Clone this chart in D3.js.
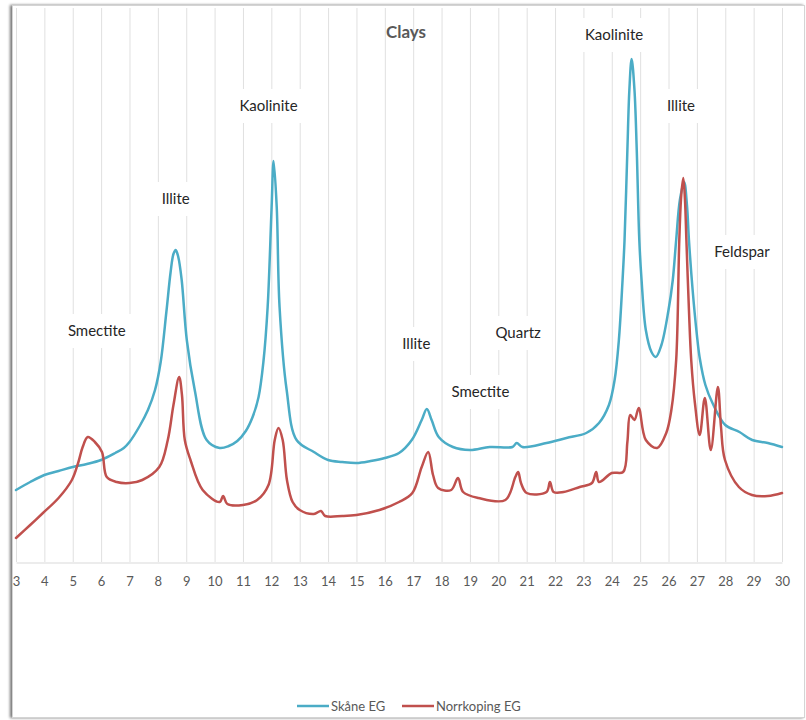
<!DOCTYPE html>
<html>
<head>
<meta charset="utf-8">
<script src="https://cdn.jsdelivr.net/npm/d3@7"></script>
<style>
  html, body { margin: 0; padding: 0; background: #fff; }
  svg { display: block; font-family: Lato, "Open Sans", sans-serif; }
</style>
</head>
<body>
<svg id="chart" width="806" height="720"></svg>
<script>
// ---- data (2θ in degrees, intensity in arbitrary units) ----
const xTicks = d3.range(3, 31, 1);

const skaneTheta = [3.0,3.5,4.0,4.5,5.0,5.5,6.0,6.5,6.8,7.0,7.36,7.65,7.9,8.1,8.3,8.45,8.55,8.63,8.72,8.84,9.02,9.30,9.72,10.18,10.5,10.8,11.1,11.34,11.55,11.72,11.87,12.01,12.08,12.19,12.29,12.54,12.89,13.5,14.0,14.5,15.0,15.5,16.0,16.5,16.95,17.3,17.48,17.65,17.9,18.4,19.0,19.7,20.5,20.65,20.85,21.7,22.4,23.1,23.55,23.9,24.1,24.25,24.38,24.45,24.55,24.62,24.7,24.8,24.88,24.97,25.05,25.2,25.4,25.55,25.75,26.0,26.15,26.27,26.4,26.55,26.65,26.72,26.85,27.0,27.1,27.3,27.55,28.0,28.5,28.95,29.5,30.0];
const skaneCounts = [72,80,87,91,95,98,102,109,114,120,136,152,172,200,250,290,308,312,305,282,222,172,122,114,116,121,131,145,165,200,255,355,401,355,255,172,122,110,102,100,99,101,104,109,122,142,153,142,125,115,112,115,115,119,115,119,124,129,139,157,182,222,282,322,412,472,503,472,412,322,282,232,210,205,217,252,282,322,362,380,357,322,272,227,204,177,159,137,130,122,119,115];

const norrTheta = [3.0,3.5,3.95,4.5,4.97,5.2,5.35,5.53,5.78,6.03,6.2,6.55,7.0,7.45,8.05,8.35,8.55,8.75,8.85,8.95,9.15,9.58,10.18,10.3,10.45,11.0,11.5,11.9,12.12,12.25,12.4,12.55,12.75,13.0,13.5,13.75,13.9,14.5,15.0,15.81,16.5,16.97,17.3,17.53,17.7,17.88,18.34,18.58,18.76,19.3,20.25,20.6,20.7,20.8,21.0,21.7,21.82,21.95,22.3,22.87,23.3,23.45,23.55,24.0,24.4,24.55,24.65,24.8,24.95,25.2,25.6,25.92,26.1,26.27,26.38,26.45,26.52,26.58,26.63,26.72,26.8,26.93,27.1,27.28,27.49,27.74,27.85,27.99,28.48,28.94,29.5,30.0];
const norrCounts = [24,37,49,64,82,100,115,125,120,110,85,80,79,82,95,122,157,185,167,122,102,72,60,66,58,57,62,77,122,134,122,82,60,52,48,51,46,46,47,52,60,69,95,110,87,74,72,84,70,64,62,85,90,79,69,70,80,70,70,75,79,90,80,89,90,120,147,142,154,122,114,129,152,202,322,367,384,362,322,252,202,159,127,164,112,175,135,102,75,67,66,69];

const seriesNames = ["Skåne EG", "Norrkoping EG"];
const seriesColors = ["#4BACC6", "#C0504D"];

const title = "Clays";
const labelTexts = ["Kaolinite","Illite","Smectite","Illite","Quartz","Smectite","Kaolinite","Illite","Feldspar"];
const labelTheta = [11.9, 8.63, 5.85, 17.11, 20.7, 19.37, 24.08, 26.44, 28.59];
const labelCounts = [456, 363, 231, 218, 229, 170, 527, 456, 310];

// ---- layout ----
const svg = d3.select("#chart");
const plot = { left: 16, right: 782, top: 8, bottom: 562 };

const x = d3.scaleLinear().domain([3, 30]).range([plot.left, plot.right]);
const y = d3.scaleLinear().domain([0, 554]).range([plot.bottom, plot.top]);

// frame with shadow
const defs = svg.append("defs");
const f = defs.append("filter").attr("id", "sh").attr("x", "-5%").attr("y", "-5%").attr("width", "110%").attr("height", "110%");
f.append("feGaussianBlur").attr("in", "SourceAlpha").attr("stdDeviation", 1.5);
f.append("feOffset").attr("dx", -2).attr("dy", 0).attr("result", "o");
f.append("feComponentTransfer").append("feFuncA").attr("type", "linear").attr("slope", 0.55);
const fm = f.append("feMerge");
fm.append("feMergeNode");
fm.append("feMergeNode").attr("in", "SourceGraphic");

svg.append("rect").attr("x", 12.5).attr("y", 5.5).attr("width", 792).attr("height", 712)
  .attr("fill", "#fff").attr("stroke", "#d4d4d4").attr("stroke-width", 1).attr("filter", "url(#sh)");

// gridlines
svg.append("g").selectAll("line").data(xTicks).join("line")
  .attr("x1", d => x(d) + 0.5).attr("x2", d => x(d) + 0.5)
  .attr("y1", plot.top).attr("y2", plot.bottom)
  .attr("stroke", "#e0e0e0").attr("stroke-width", 1);

// title (no box)
svg.append("text").attr("x", 406).attr("y", 38).attr("text-anchor", "middle")
  .attr("font-size", 17).attr("font-weight", "bold").attr("fill", "#595959").text(title);

// annotation labels with white boxes
const labels = labelTexts.map((t, i) => ({ t, cx: x(labelTheta[i]), cy: y(labelCounts[i]) }));
const lg = svg.append("g");
labels.forEach(l => {
  const txt = lg.append("text").attr("x", l.cx).attr("y", l.cy).attr("dy", "0.35em")
    .attr("text-anchor", "middle").attr("font-size", 15).attr("fill", "#262626").text(l.t);
  const bb = txt.node().getBBox();
  lg.insert("rect", "text").attr("x", bb.x - 8).attr("y", l.cy - 17)
    .attr("width", bb.width + 16).attr("height", 34).attr("fill", "#fff");
});

// x axis
const xAxis = d3.axisBottom(x).tickValues(xTicks).tickSize(0).tickPadding(14).tickFormat(d3.format("d"));
const ax = svg.append("g").attr("transform", `translate(0,${plot.bottom + 0.5})`).call(xAxis);
ax.select(".domain").attr("stroke", "#d9d9d9").attr("stroke-width", 1);
ax.selectAll("text").attr("font-size", 13).attr("fill", "#595959").attr("font-family", "Lato, sans-serif");

// lines
const line = d3.line().x(d => x(d[0])).y(d => y(d[1])).curve(d3.curveCatmullRom.alpha(0.5));
const series = [
  d3.zip(skaneTheta, skaneCounts),
  d3.zip(norrTheta, norrCounts)
];
svg.append("g").selectAll("path").data(series).join("path")
  .attr("d", line).attr("fill", "none")
  .attr("stroke", (d, i) => seriesColors[i]).attr("stroke-width", 2.5)
  .attr("stroke-linejoin", "round").attr("stroke-linecap", "round");

// legend
const legendX = [297, 402];
const leg = svg.append("g");
seriesNames.forEach((n, i) => {
  leg.append("line").attr("x1", legendX[i]).attr("x2", legendX[i] + 32)
    .attr("y1", 706).attr("y2", 706).attr("stroke", seriesColors[i]).attr("stroke-width", 2.5);
  leg.append("text").attr("x", legendX[i] + 34).attr("y", 706).attr("dy", "0.35em")
    .attr("font-size", 13).attr("fill", "#595959").text(n);
});
</script>
</body>
</html>
